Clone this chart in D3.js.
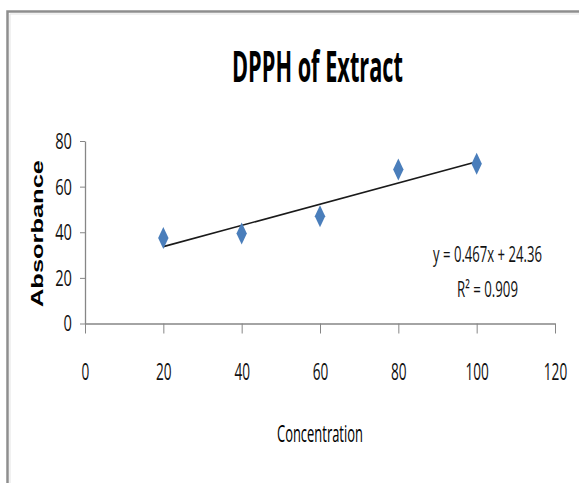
<!DOCTYPE html>
<html>
<head>
<meta charset="utf-8">
<script src="https://cdn.jsdelivr.net/npm/d3@7"></script>
<style>
  body { margin: 0; background: #fff; }
  svg { display: block; }
</style>
</head>
<body>
<script>
const width = 579;
const height = 483;

// data
const concentration = [20, 40, 60, 80, 100];
const absorbance = [37.5, 39.5, 47, 67.5, 70];
const xTicks = [0, 20, 40, 60, 80, 100, 120];
const yTicks = [0, 20, 40, 60, 80];
const equationText = "y = 0.467x + 24.36";
const r2Text = "R\u00b2 = 0.909";

const svg = d3.select("body").append("svg")
    .attr("width", width)
    .attr("height", height);

// chart area border (only the top and left edges show in the crop)
svg.append("path")
    .attr("d", `M7.5,${height} V11.5 H${width}`)
    .attr("fill", "none")
    .attr("stroke", "#8e8e8e")
    .attr("stroke-width", 2.5);
svg.append("path")
    .attr("d", `M10,${height} V14 H${width}`)
    .attr("fill", "none")
    .attr("stroke", "#e3e3e3")
    .attr("stroke-width", 1);

const x = d3.scaleLinear().domain([0, 120]).range([85, 555]);
const y = d3.scaleLinear().domain([0, 80]).range([323.5, 141]);

const font = "'Open Sans', Lato, sans-serif";

// squeeze a text sideways so it takes the measured width
// (the reference is a horizontally compressed screenshot)
const squeeze = (sel, px, py, target, rotate = 0) => sel.each(function (d) {
    const t = d3.select(this).attr("x", 0).attr("y", 0).attr("dy", null);
    const w = this.getComputedTextLength();
    const tw = typeof target === "function" ? target(d) : target;
    const rot = rotate ? ` rotate(${rotate})` : "";
    t.attr("transform", `translate(${px},${py})${rot} scale(${tw / w},1)`);
});

// x axis
const gx = svg.append("g")
    .attr("transform", `translate(0,${y(0)})`)
    .call(d3.axisBottom(x).tickValues(xTicks).tickSize(10).tickSizeOuter(0).tickFormat(d3.format("d")));
gx.select(".domain").attr("stroke", "#868686").attr("stroke-width", 1.3);
gx.selectAll(".tick line").attr("stroke", "#868686");
gx.selectAll(".tick text")
    .attr("fill", "#111")
    .attr("font-family", font)
    .attr("font-size", 23)
    .call(squeeze, 0, 56.5, d => String(d).length * 7.8);

// y axis
const gy = svg.append("g")
    .attr("transform", `translate(${x(0)},0)`)
    .call(d3.axisLeft(y).tickValues(yTicks).tickSize(5).tickSizeOuter(0).tickFormat(d3.format("d")));
gy.select(".domain").attr("stroke", "#868686").attr("stroke-width", 1.3);
gy.selectAll(".tick line").attr("stroke", "#868686");
gy.selectAll(".tick text")
    .attr("fill", "#111")
    .attr("font-family", font)
    .attr("font-size", 21)
    .call(squeeze, -13, 7.4, d => String(d).length * 8.4);

// linear trendline, least squares from the points
const mx = d3.mean(concentration);
const my = d3.mean(absorbance);
const sxy = d3.sum(concentration, (c, i) => (c - mx) * (absorbance[i] - my));
const sxx = d3.sum(concentration, c => (c - mx) ** 2);
const slope = sxy / sxx;
const intercept = my - slope * mx;
const xExt = d3.extent(concentration);

svg.append("line")
    .attr("x1", x(xExt[0]))
    .attr("y1", y(slope * xExt[0] + intercept))
    .attr("x2", x(xExt[1]))
    .attr("y2", y(slope * xExt[1] + intercept))
    .attr("stroke", "#1a1a1a")
    .attr("stroke-width", 1.6);

// diamond markers (tall, the picture is squeezed sideways)
svg.append("g")
    .selectAll("path")
    .data(concentration)
    .join("path")
    .attr("d", "M0,-11 L5.2,0 L0,11 L-5.2,0 Z")
    .attr("transform", (d, i) => `translate(${x(d)},${y(absorbance[i])})`)
    .attr("fill", "#4a7ebb");

// title
svg.append("text")
    .attr("font-family", font)
    .attr("font-weight", "bold")
    .attr("font-size", 43)
    .attr("fill", "#000")
    .text("DPPH of Extract")
    .call(squeeze, 232, 82, 171);

// axis titles
svg.append("text")
    .attr("font-family", "'Liberation Sans', Arial, sans-serif")
    .attr("font-weight", "bold")
    .attr("font-size", 16)
    .attr("fill", "#000")
    .text("Absorbance")
    .call(squeeze, 43.3, 307, 147, -90);

svg.append("text")
    .attr("font-family", font)
    .attr("font-size", 23)
    .attr("fill", "#000")
    .text("Concentration")
    .call(squeeze, 277, 442, 86);

// trendline equation
svg.append("text")
    .attr("font-family", font)
    .attr("font-size", 21)
    .attr("fill", "#111")
    .text(equationText)
    .call(squeeze, 433, 262, 109);

svg.append("text")
    .attr("font-family", font)
    .attr("font-size", 21)
    .attr("fill", "#111")
    .text(r2Text)
    .call(squeeze, 457, 297, 61);
</script>
</body>
</html>
